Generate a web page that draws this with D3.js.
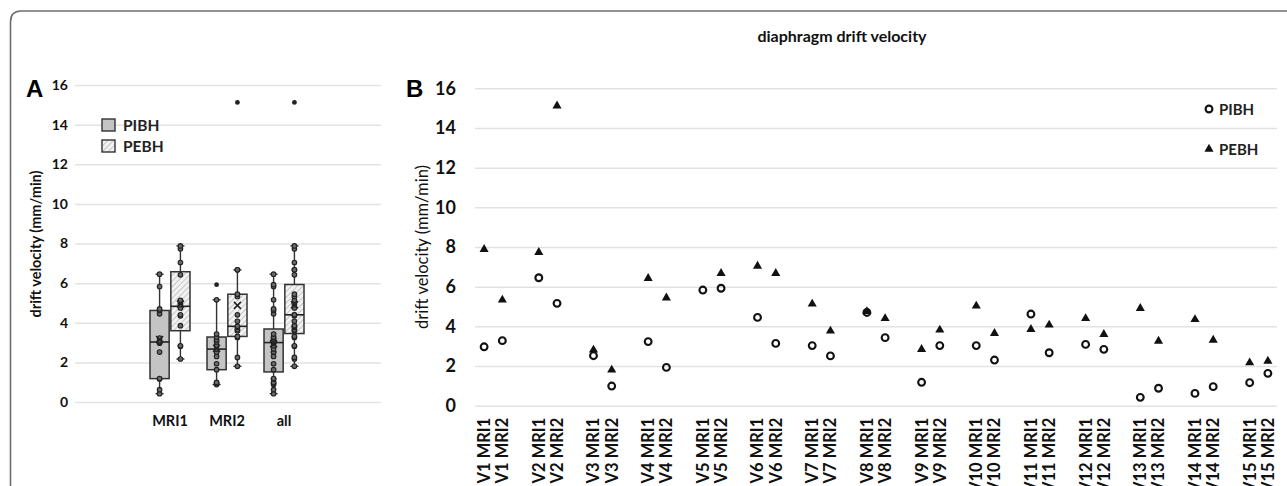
<!DOCTYPE html>
<html>
<head>
<meta charset="utf-8">
<script src="https://cdn.jsdelivr.net/npm/d3@7"></script>
<style>
  body { margin: 0; background: #fff; }
  svg { display: block; font-family: Lato, "Open Sans", sans-serif; }
</style>
</head>
<body>
<script>
// data (mm/min), one value per volunteer V1..V15
var visits = ['V1','V2','V3','V4','V5','V6','V7','V8','V9','V10','V11','V12','V13','V14','V15'];
var sessions = ['MRI1', 'MRI2'];
var series = ['PIBH', 'PEBH'];
var pibhMRI1 = [2.97, 6.45, 2.52, 3.23, 5.83, 4.45, 3.03, 4.70, 1.18, 3.03, 4.62, 3.09, 0.42, 0.62, 1.16];
var pibhMRI2 = [3.28, 5.16, 0.99, 1.93, 5.92, 3.14, 2.51, 3.43, 3.03, 2.30, 2.67, 2.84, 0.88, 0.96, 1.63];
var pebhMRI1 = [7.88, 7.73, 2.81, 6.42, null, 7.04, 5.13, 4.75, 2.84, 5.03, 3.85, 4.40, 4.91, 4.35, 2.17];
var pebhMRI2 = [5.33, 15.12, 1.80, 5.44, 6.67, 6.67, 3.77, 4.40, 3.82, 3.65, 4.07, 3.60, 3.26, 3.31, 2.25];
var groupsA = ['MRI1', 'MRI2', 'all'];
var yTicks = [0, 2, 4, 6, 8, 10, 12, 14, 16];

var W = 1287, H = 486;

var values = {
  PIBH: { MRI1: pibhMRI1, MRI2: pibhMRI2 },
  PEBH: { MRI1: pebhMRI1, MRI2: pebhMRI2 }
};

var svg = d3.select('body').append('svg')
  .attr('width', W)
  .attr('height', H);

var defs = svg.append('defs');
var hatch = defs.append('pattern')
  .attr('id', 'hatch')
  .attr('patternUnits', 'userSpaceOnUse')
  .attr('width', 4)
  .attr('height', 4)
  .attr('patternTransform', 'rotate(45)');
hatch.append('rect').attr('width', 4).attr('height', 4).attr('fill', '#f2f2f2');
hatch.append('line').attr('x1', 0).attr('y1', 0).attr('x2', 0).attr('y2', 4)
  .attr('stroke', '#a8a8a8').attr('stroke-width', 1.2);

var fillOf = { PIBH: '#c4c4c4', PEBH: 'url(#hatch)' };

// outer frame with rounded corner
svg.append('path')
  .attr('d', 'M10.5,' + H + 'V22Q10.5,11 21,11H' + W)
  .attr('fill', 'none')
  .attr('stroke', '#6e6e6e')
  .attr('stroke-width', 1.6);

// ---------- panel A : box plots ----------
var yA = d3.scaleLinear().domain([0, 16]).range([402, 85]);
var xA = d3.scalePoint().domain(groupsA).range([170, 284]);
var sub = d3.scaleBand().domain(series).range([-20, 20]).paddingInner(0.08);

var gA = svg.append('g');

gA.append('g')
  .attr('transform', 'translate(75,0)')
  .call(d3.axisLeft(yA).tickValues(yTicks).tickSize(-(381 - 75)).tickPadding(7))
  .call(g => g.select('.domain').remove())
  .call(g => g.selectAll('.tick line').attr('stroke', '#e2e2e2').attr('stroke-width', 1.5))
  .call(g => g.selectAll('.tick text')
    .attr('font-family', 'Lato, sans-serif')
    .attr('font-size', 14).attr('font-weight', 700).attr('fill', '#111'));

gA.append('text')
  .attr('transform', 'translate(41,244) rotate(-90)')
  .attr('text-anchor', 'middle')
  .attr('font-size', 14.5)
  .attr('font-weight', 700)
  .attr('fill', '#111')
  .text('drift velocity (mm/min)');

gA.selectAll('.xlab')
  .data(groupsA)
  .join('text')
  .attr('x', d => xA(d))
  .attr('y', 426)
  .attr('text-anchor', 'middle')
  .attr('font-size', 14.5)
  .attr('font-weight', 700)
  .attr('fill', '#111')
  .text(d => d);

gA.append('text')
  .attr('x', 26).attr('y', 97)
  .attr('font-family', '"Liberation Sans", Arial, sans-serif')
  .attr('font-size', 24).attr('font-weight', 700)
  .text('A');

function quartileExc(s, p) {
  var pos = p * (s.length + 1);
  var i = Math.floor(pos), f = pos - i;
  if (i < 1) return s[0];
  if (i >= s.length) return s[s.length - 1];
  return s[i - 1] + f * (s[i] - s[i - 1]);
}

function boxStats(arr) {
  var s = arr.filter(v => v != null).sort(d3.ascending);
  var q1 = quartileExc(s, 0.25), med = quartileExc(s, 0.5), q3 = quartileExc(s, 0.75);
  var iqr = q3 - q1;
  var inside = s.filter(v => v >= q1 - 1.5 * iqr && v <= q3 + 1.5 * iqr);
  return {
    values: s, q1: q1, med: med, q3: q3, mean: d3.mean(s),
    lo: d3.min(inside), hi: d3.max(inside),
    outliers: s.filter(v => v < q1 - 1.5 * iqr || v > q3 + 1.5 * iqr)
  };
}

var boxes = [];
groupsA.forEach(function(grp) {
  series.forEach(function(ser) {
    var arr = grp === 'all'
      ? values[ser].MRI1.concat(values[ser].MRI2)
      : values[ser][grp];
    boxes.push({ grp: grp, ser: ser, st: boxStats(arr) });
  });
});

var bw = sub.bandwidth();
boxes.forEach(function(b) {
  var cx = xA(b.grp) + sub(b.ser) + bw / 2;
  var st = b.st;
  var g = gA.append('g');
  // whiskers
  g.append('line').attr('x1', cx).attr('x2', cx).attr('y1', yA(st.q3)).attr('y2', yA(st.hi))
    .attr('stroke', '#333').attr('stroke-width', 1.4);
  g.append('line').attr('x1', cx).attr('x2', cx).attr('y1', yA(st.q1)).attr('y2', yA(st.lo))
    .attr('stroke', '#333').attr('stroke-width', 1.4);
  [st.hi, st.lo].forEach(function(v) {
    g.append('line').attr('x1', cx - 4).attr('x2', cx + 4).attr('y1', yA(v)).attr('y2', yA(v))
      .attr('stroke', '#333').attr('stroke-width', 1.4);
  });
  g.append('rect')
    .attr('x', cx - bw / 2).attr('y', yA(st.q3))
    .attr('width', bw).attr('height', yA(st.q1) - yA(st.q3))
    .attr('fill', fillOf[b.ser])
    .attr('stroke', '#333').attr('stroke-width', 1.5);
  g.append('line').attr('x1', cx - bw / 2).attr('x2', cx + bw / 2)
    .attr('y1', yA(st.med)).attr('y2', yA(st.med))
    .attr('stroke', '#222').attr('stroke-width', 1.6);
  g.selectAll('.pt')
    .data(st.values.filter(v => st.outliers.indexOf(v) < 0))
    .join('circle')
    .attr('cx', cx).attr('cy', d => yA(d)).attr('r', 2.3)
    .attr('fill', '#6a6a6a').attr('stroke', '#222').attr('stroke-width', 1.1);
  g.selectAll('.out')
    .data(st.outliers)
    .join('circle')
    .attr('cx', cx).attr('cy', d => yA(d)).attr('r', 2.4)
    .attr('fill', '#222');
  var m = yA(st.mean);
  g.append('path')
    .attr('d', 'M' + (cx - 3.5) + ',' + (m - 3.5) + 'L' + (cx + 3.5) + ',' + (m + 3.5) +
               'M' + (cx - 3.5) + ',' + (m + 3.5) + 'L' + (cx + 3.5) + ',' + (m - 3.5))
    .attr('stroke', '#222').attr('stroke-width', 1.5);
});

// legend A
var legA = gA.append('g').selectAll('g')
  .data(series)
  .join('g')
  .attr('transform', (d, i) => 'translate(102,' + (119 + i * 21) + ')');
legA.append('rect')
  .attr('width', 13).attr('height', 12)
  .attr('fill', d => fillOf[d])
  .attr('stroke', '#333').attr('stroke-width', 1.4);
legA.append('text')
  .attr('x', 21).attr('y', 11.5)
  .attr('font-size', 15.5).attr('font-weight', 700).attr('fill', '#222')
  .text(d => d);

// ---------- panel B : scatter per volunteer ----------
var slots = [];
visits.forEach(function(v, i) {
  sessions.forEach(function(s) {
    slots.push({ label: v + ' ' + s, visit: i, session: s });
  });
  if (i < visits.length - 1) slots.push({ label: '', visit: -1 });
});

var xB = d3.scaleBand().domain(d3.range(slots.length)).range([475, 1277]);
var yB = d3.scaleLinear().domain([0, 16]).range([405.7, 88.3]);

var gB = svg.append('g');

gB.append('g')
  .attr('transform', 'translate(475,0)')
  .call(d3.axisLeft(yB).tickValues(yTicks).tickSize(-(1277 - 475)).tickPadding(19))
  .call(g => g.select('.domain').remove())
  .call(g => g.selectAll('.tick line').attr('stroke', '#e2e2e2').attr('stroke-width', 1.5))
  .call(g => g.selectAll('.tick text')
    .attr('font-family', 'Lato, sans-serif')
    .attr('font-size', 18).attr('font-weight', 700).attr('fill', '#111'));

gB.append('g')
  .attr('transform', 'translate(0,' + yB(0) + ')')
  .call(d3.axisBottom(xB).tickSize(0).tickFormat(i => slots[i].label))
  .call(g => g.select('.domain').remove())
  .call(g => g.selectAll('.tick text')
    .attr('transform', 'rotate(-90)')
    .attr('text-anchor', 'end')
    .attr('x', -12).attr('y', 0).attr('dy', '0.36em')
    .attr('font-family', 'Lato, sans-serif')
    .attr('font-size', 16.5).attr('font-weight', 700).attr('fill', '#111'));

gB.append('text')
  .attr('transform', 'translate(428,247) rotate(-90)')
  .attr('text-anchor', 'middle')
  .attr('font-size', 16.5)
  .attr('fill', '#111')
  .text('drift velocity (mm/min)');

gB.append('text')
  .attr('x', 406).attr('y', 97)
  .attr('font-family', '"Liberation Sans", Arial, sans-serif')
  .attr('font-size', 24).attr('font-weight', 700)
  .text('B');

svg.append('text')
  .attr('x', 842).attr('y', 42)
  .attr('text-anchor', 'middle')
  .attr('font-size', 16).attr('font-weight', 700).attr('fill', '#111')
  .text('diaphragm drift velocity');

var pts = [];
slots.forEach(function(s, i) {
  if (s.visit < 0) return;
  series.forEach(function(ser) {
    var v = values[ser][s.session][s.visit];
    if (v != null) pts.push({ slot: i, ser: ser, v: v });
  });
});

var tri = d3.symbol().type(d3.symbolTriangle).size(36);
gB.selectAll('.tri')
  .data(pts.filter(p => p.ser === 'PEBH'))
  .join('path')
  .attr('d', tri)
  .attr('transform', d => 'translate(' + (xB(d.slot) + xB.bandwidth() / 2) + ',' + yB(d.v) + ')')
  .attr('fill', '#111');

gB.selectAll('.circ')
  .data(pts.filter(p => p.ser === 'PIBH'))
  .join('circle')
  .attr('cx', d => xB(d.slot) + xB.bandwidth() / 2)
  .attr('cy', d => yB(d.v))
  .attr('r', 3.4)
  .attr('fill', 'none')
  .attr('stroke', '#111')
  .attr('stroke-width', 2.1);

// legend B
var legB = gB.append('g').selectAll('g')
  .data(series)
  .join('g')
  .attr('transform', (d, i) => 'translate(1209,' + (109 + i * 40) + ')');
legB.filter(d => d === 'PIBH').append('circle')
  .attr('r', 3.4).attr('fill', 'none').attr('stroke', '#111').attr('stroke-width', 2.1);
legB.filter(d => d === 'PEBH').append('path')
  .attr('d', tri).attr('fill', '#111');
legB.append('text')
  .attr('x', 10).attr('y', 5.5)
  .attr('font-size', 15).attr('font-weight', 700).attr('fill', '#222')
  .text(d => d);
</script>
</body>
</html>
